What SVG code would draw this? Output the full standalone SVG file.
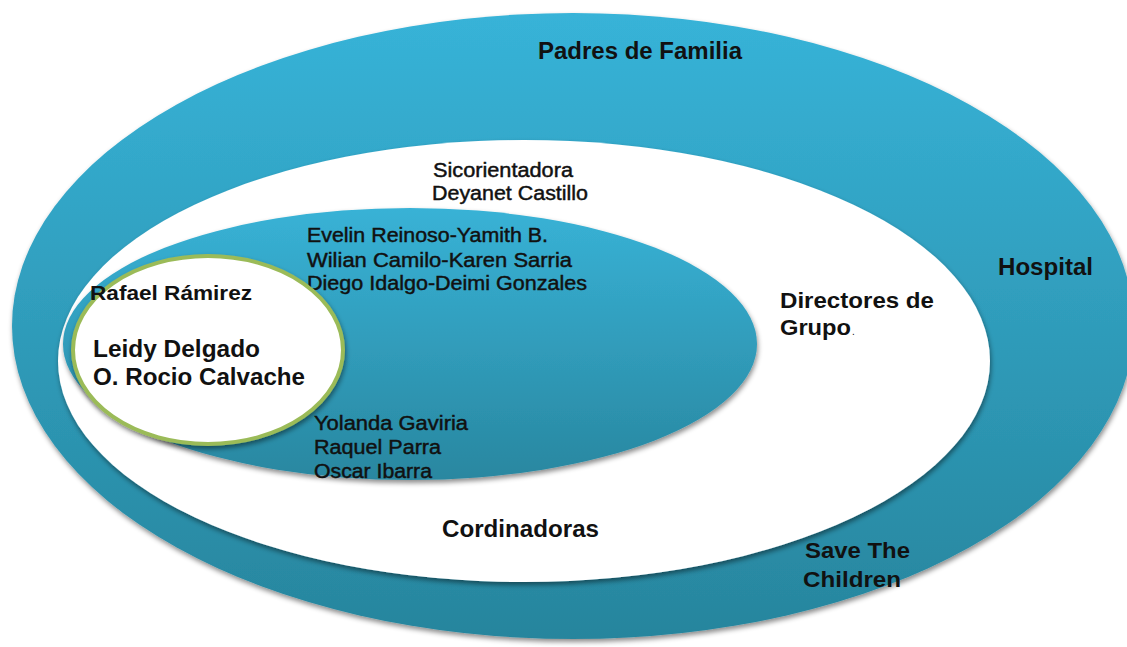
<svg xmlns="http://www.w3.org/2000/svg" width="1127" height="647" viewBox="0 0 1127 647">
  <defs>
    <linearGradient id="gOuter" x1="0" y1="0" x2="0" y2="1">
      <stop offset="0" stop-color="#37B3D8"/>
      <stop offset="1" stop-color="#27859D"/>
    </linearGradient>
    <linearGradient id="gInner" x1="0" y1="0" x2="0" y2="1">
      <stop offset="0" stop-color="#38B2D6"/>
      <stop offset="1" stop-color="#2987A0"/>
    </linearGradient>
    <filter id="shadow" x="-10%" y="-10%" width="120%" height="125%">
      <feDropShadow dx="1" dy="3" stdDeviation="2.5" flood-color="#000" flood-opacity="0.45"/>
    </filter>
  </defs>
  <style>
    text { font-family: "Liberation Sans", Arial, sans-serif; fill: #111; }
    .b { font-weight: bold; }
    .n { font-weight: normal; stroke: #111; stroke-width: 0.45; }
  </style>
  <rect width="1127" height="647" fill="#fff"/>

  <g id="outer-ring">
    <ellipse cx="573" cy="326" rx="561" ry="313" fill="url(#gOuter)" filter="url(#shadow)"/>
    <text class="b" x="538" y="59" font-size="23" textLength="204" lengthAdjust="spacingAndGlyphs">Padres de Familia</text>
    <text class="b" x="998" y="275" font-size="23" textLength="95" lengthAdjust="spacingAndGlyphs">Hospital</text>
    <text class="b" x="805" y="558" font-size="22" textLength="105" lengthAdjust="spacingAndGlyphs">Save The</text>
    <text class="b" x="803" y="587" font-size="22" textLength="98" lengthAdjust="spacingAndGlyphs">Children</text>
  </g>

  <g id="white-ring">
    <ellipse cx="524" cy="361" rx="466" ry="221" fill="#fff" filter="url(#shadow)"/>
    <text class="n" x="433" y="177" font-size="20" textLength="140" lengthAdjust="spacingAndGlyphs">Sicorientadora</text>
    <text class="n" x="432" y="200" font-size="20" textLength="156" lengthAdjust="spacingAndGlyphs">Deyanet Castillo</text>
    <text class="b" x="780" y="308" font-size="22" textLength="154" lengthAdjust="spacingAndGlyphs">Directores de</text>
    <text class="b" x="780" y="335" font-size="22" textLength="71" lengthAdjust="spacingAndGlyphs">Grupo</text>
    <text x="852" y="335" font-size="10" fill="#666">.</text>
    <text class="b" x="442" y="537" font-size="23" textLength="157" lengthAdjust="spacingAndGlyphs">Cordinadoras</text>
  </g>

  <g id="inner-ellipse">
    <ellipse cx="410" cy="344" rx="347" ry="136" fill="url(#gInner)" filter="url(#shadow)"/>
    <text class="n" x="307" y="242" font-size="20" textLength="241" lengthAdjust="spacingAndGlyphs">Evelin Reinoso-Yamith B.</text>
    <text class="n" x="307" y="267" font-size="20" textLength="265" lengthAdjust="spacingAndGlyphs">Wilian Camilo-Karen  Sarria</text>
    <text class="n" x="307" y="290" font-size="20" textLength="280" lengthAdjust="spacingAndGlyphs">Diego Idalgo-Deimi Gonzales</text>
    <text class="n" x="314" y="430" font-size="20" textLength="154" lengthAdjust="spacingAndGlyphs">Yolanda Gaviria</text>
    <text class="n" x="314" y="454" font-size="20" textLength="127" lengthAdjust="spacingAndGlyphs">Raquel Parra</text>
    <text class="n" x="314" y="478" font-size="20" textLength="118" lengthAdjust="spacingAndGlyphs">Oscar Ibarra</text>
  </g>

  <g id="core-circle">
    <ellipse cx="208" cy="350" rx="135" ry="94" fill="#fff" stroke="#9BBB59" stroke-width="4" filter="url(#shadow)"/>
    <text class="b" x="90" y="300" font-size="20" textLength="162" lengthAdjust="spacingAndGlyphs">Rafael Rámirez</text>
    <text class="b" x="93" y="357" font-size="23" textLength="167" lengthAdjust="spacingAndGlyphs">Leidy Delgado</text>
    <text class="b" x="93" y="385" font-size="23" textLength="212" lengthAdjust="spacingAndGlyphs">O. Rocio Calvache</text>
  </g>
</svg>
